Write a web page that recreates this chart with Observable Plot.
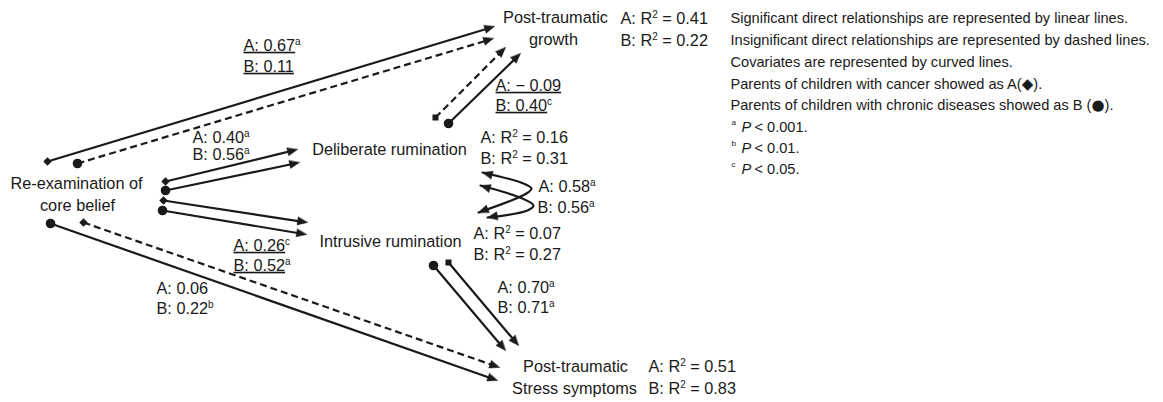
<!DOCTYPE html>
<html><head><meta charset="utf-8">
<script src="https://cdn.jsdelivr.net/npm/d3@7"></script>
<script src="https://cdn.jsdelivr.net/npm/@observablehq/plot@0.6"></script>
<style>body{margin:0;background:#fff} svg{display:block}</style>
</head><body><div id="chart"></div>
<script>
const W = 1163, H = 402;

// Node (variable) labels
const nodeText = ["Re-examination of","core belief","Deliberate rumination","Intrusive rumination","Post-traumatic","growth","Post-traumatic","Stress symptoms"];
const nodeX = [76, 77, 389, 390, 555, 553, 575, 574];
const nodeY = [183, 205, 149, 241, 17, 39, 366, 388];

// Path coefficients (A = cancer, B = chronic disease)
const coefText = ["A: 0.67ᵃ","B: 0.11","A: 0.40ᵃ","B: 0.56ᵃ","A: 0.26ᶜ","B: 0.52ᵃ","A: 0.06","B: 0.22ᵇ","A: − 0.09","B: 0.40ᶜ","A: 0.58ᵃ","B: 0.56ᵃ","A: 0.70ᵃ","B: 0.71ᵃ"];
const coefX = [243, 243, 192, 192, 233, 233, 156, 156, 495, 495, 538, 537, 497, 497];
const coefY = [45, 66, 137, 154, 245, 265, 288, 308, 85, 105, 186, 207, 287, 307];
const coefUnderlined = [true, true, false, false, true, true, false, false, true, true, false, false, false, false];

// Explained variance
const r2Text = ["A: R² = 0.41","B: R² = 0.22","A: R² = 0.16","B: R² = 0.31","A: R² = 0.07","B: R² = 0.27","A: R² = 0.51","B: R² = 0.83"];
const r2X = [620, 620, 480, 480, 473, 473, 648, 648];
const r2Y = [18, 40, 137, 158, 233, 254, 366, 388];

// Direct paths
const pathGroup  = ["A","B","A","B","A","B","A","B","A","B","B","A"];
const pathMarker = ["diamond2","circle","diamond2","circle","diamond2","circle","diamond2","circle","square","circle","circle","square"];
const pathDashed = [false, true, false, false, false, false, true, false, true, false, false, false];
const pathX1 = [47, 77, 165, 165, 163, 162, 83, 50, 435, 448, 433, 448];
const pathY1 = [161, 163, 181, 190, 200, 210, 222, 223, 117, 123, 265, 262];
const pathX2 = [494, 493, 297, 299, 307, 306, 499, 497, 505, 520, 505, 518];
const pathY2 = [26, 38, 149, 162, 222, 234, 367, 380, 47, 53, 350, 345];

// Covariance curves (double-headed)
const covId = [0, 0, 0, 0, 0, 1, 1, 1, 1, 1];
const covX = [482, 523, 531, 526, 478, 480, 522, 533, 527, 487];
const covY = [172, 183, 188, 193, 212, 185, 198, 205, 210, 217];

// Legend / notes
const noteText = [
  "Significant direct relationships are represented by linear lines.",
  "Insignificant direct relationships are represented by dashed lines.",
  "Covariates are represented by curved lines.",
  "Parents of children with cancer showed as A(◆).",
  "Parents of children with chronic diseases showed as B (●)."
];
const noteY = [18, 40, 62, 84, 105];
const sigLetter = ["a","b","c"];
const sigText = ["< 0.001.","< 0.01.","< 0.05."];
const sigY = [127, 148, 169];

// ---- build tables ----
const nodes = nodeText.map((t,i)=>({t, x:nodeX[i], y:nodeY[i]}));
const coefs = coefText.map((t,i)=>({t, x:coefX[i], y:coefY[i], u:coefUnderlined[i]}));
const r2s = r2Text.map((t,i)=>({t, x:r2X[i], y:r2Y[i]}));
const paths = pathGroup.map((g,i)=>({g, m:pathMarker[i], dashed:pathDashed[i], x1:pathX1[i], y1:pathY1[i], x2:pathX2[i], y2:pathY2[i]}));
const covPts = covId.map((id,i)=>({id, x:covX[i], y:covY[i]}));

const HL = 10, HW = 8;
function head(id, tx, ty, fx, fy) {
  const dx = tx - fx, dy = ty - fy, len = Math.hypot(dx, dy);
  const ux = dx/len, uy = dy/len, nx = -uy, ny = ux;
  const bx = tx - HL*ux, by = ty - HL*uy;
  return [
    {id, x:tx, y:ty},
    {id, x:bx + nx*HW/2, y:by + ny*HW/2},
    {id, x:bx - nx*HW/2, y:by - ny*HW/2}
  ];
}
const heads = [];
const segs = paths.map((p,i)=>{
  heads.push(...head("p"+i, p.x2, p.y2, p.x1, p.y1));
  const dx = p.x2-p.x1, dy = p.y2-p.y1, len = Math.hypot(dx,dy);
  return {...p, ex: p.x2 - dx/len*HL*0.6, ey: p.y2 - dy/len*HL*0.6};
});
for (const id of [0,1]) {
  const pts = covPts.filter(d=>d.id===id);
  const n = pts.length;
  heads.push(...head("c"+id+"s", pts[0].x, pts[0].y, pts[1].x, pts[1].y));
  heads.push(...head("c"+id+"e", pts[n-1].x, pts[n-1].y, pts[n-2].x, pts[n-2].y));
}

const notes = noteText.map((t,i)=>({t, y:noteY[i]}));
const sigs = sigLetter.map((l,i)=>({l, t:sigText[i], y:sigY[i]}));

const FF = "Liberation Sans, Arial, Helvetica, sans-serif";
const ink = "#1a1a1a";
const FS = 16.3, NS = 14.6;

const svg = Plot.plot({
  width: W, height: H, margin: 0,
  x: {domain:[0,W], range:[0,W], axis:null},
  y: {domain:[0,H], range:[0,H], axis:null},
  style: {fontFamily: FF, background: "white", color: ink},
  marks: [
    Plot.link(segs.filter(d=>!d.dashed), {x1:"x1", y1:"y1", x2:"ex", y2:"ey", stroke: ink, strokeWidth: 2.2}),
    Plot.link(segs.filter(d=>d.dashed), {x1:"x1", y1:"y1", x2:"ex", y2:"ey", stroke: ink, strokeWidth: 2.2, strokeDasharray: "7,4"}),
    Plot.line(covPts, {x:"x", y:"y", z:"id", curve:"catmull-rom", stroke: ink, strokeWidth: 2.2}),
    Plot.line(heads, {x:"x", y:"y", z:"id", curve:"linear-closed", fill: ink, stroke: ink, strokeWidth: 0.5}),
    Plot.dot(paths.filter(d=>d.m==="circle"), {x:"x1", y:"y1", r: 4.8, symbol:"circle", fill: ink, stroke:"none"}),
    Plot.dot(paths.filter(d=>d.m==="diamond2"), {x:"x1", y:"y1", r: 3.8, symbol:"diamond2", fill: ink, stroke:"none"}),
    Plot.dot(paths.filter(d=>d.m==="square"), {x:"x1", y:"y1", r: 3.4, symbol:"square", fill: ink, stroke:"none"}),
    Plot.text(nodes, {x:"x", y:"y", text:"t", fontSize: FS, textAnchor:"middle", fill: ink}),
    Plot.text(coefs.filter(d=>!d.u), {x:"x", y:"y", text:"t", fontSize: FS, textAnchor:"start", fill: ink}),
    Plot.text(coefs.filter(d=>d.u), {x:"x", y:"y", text:"t", fontSize: FS, textAnchor:"start", fill: ink, ariaDescription:"underlined"}),
    Plot.text(r2s, {x:"x", y:"y", text:"t", fontSize: FS, textAnchor:"start", fill: ink}),
    Plot.text(notes, {x: 730, y:"y", text:"t", fontSize: NS, textAnchor:"start", fill: ink}),
    Plot.text(sigs, {x: 731, y:"y", dy: -5, text:"l", fontSize: 8, textAnchor:"start", fill: ink}),
    Plot.text(sigs, {x: 741, y:"y", text:()=>"P", fontSize: NS, fontStyle:"italic", textAnchor:"start", fill: ink}),
    Plot.text(sigs, {x: 754, y:"y", text:"t", fontSize: NS, textAnchor:"start", fill: ink})
  ]
});

// typographic post-processing: real superscripts and symbol glyphs
const supMap = {"ᵃ":"a","ᵇ":"b","ᶜ":"c","²":"2"};
const symSet = new Set(["◆","●"]);
const NS_SVG = "http://www.w3.org/2000/svg";
svg.querySelectorAll('[aria-description="underlined"] text').forEach(t=>{ t.dataset.u = "1"; });
svg.querySelectorAll("text").forEach(t=>{
  const s = t.textContent;
  const under = t.dataset.u === "1";
  if (!under && ![...s].some(c=>supMap[c] || symSet.has(c))) return;
  while (t.firstChild) t.removeChild(t.firstChild);
  const runs = [];
  for (const c of s) {
    const type = supMap[c] ? "sup" : symSet.has(c) ? "sym" : "n";
    const ch = supMap[c] || c;
    if (runs.length && runs[runs.length-1].type === type) runs[runs.length-1].text += ch;
    else runs.push({type, text: ch});
  }
  let shifted = false;
  for (const r of runs) {
    const ts = document.createElementNS(NS_SVG, "tspan");
    ts.textContent = r.text;
    if (r.type === "sup") { ts.setAttribute("font-size", "10"); ts.setAttribute("dy", "-6"); shifted = true; }
    else {
      if (shifted) { ts.setAttribute("dy", "6"); shifted = false; }
      if (r.type === "sym") { ts.setAttribute("font-family", "DejaVu Sans"); ts.setAttribute("font-size", "15"); }
      if (under) ts.style.textDecoration = "underline";
    }
    t.appendChild(ts);
  }
});
document.getElementById("chart").appendChild(svg);
</script>
</body></html>
